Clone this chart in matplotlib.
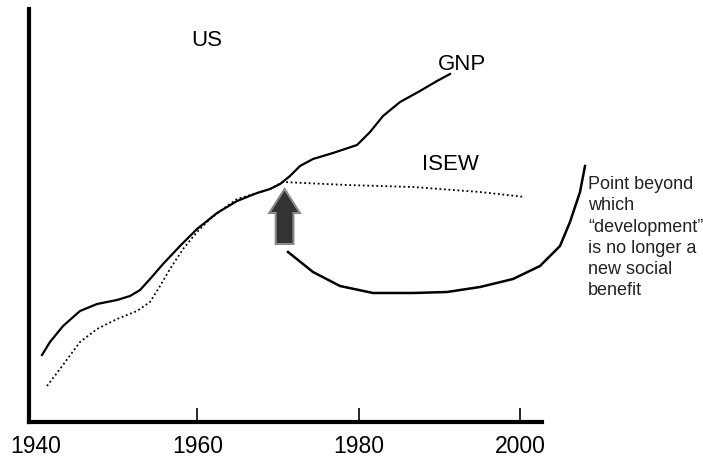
import matplotlib.pyplot as plt
import numpy as np
from matplotlib.patches import FancyArrow

plt.rcParams['font.family'] = ['Liberation Sans', 'DejaVu Sans']

# values (x in years, y in arbitrary units above the axis)
gnp_year = [1940.74, 1941.73, 1943.35, 1945.45, 1947.56, 1950.04, 1951.65,
            1952.89, 1954.13, 1955.74, 1957.84, 1959.95, 1962.43, 1964.91,
            1967.39, 1969.00, 1970.24, 1971.47, 1972.71, 1974.32, 1976.80,
            1979.78, 1981.39, 1983.00, 1985.11, 1987.58, 1989.69, 1991.30]
gnp_val = [67, 80, 96, 111, 118, 122, 126, 132, 143, 158, 176, 193, 209, 221,
           229, 233, 238, 246, 256, 263, 269, 277, 290, 306, 320, 331, 341, 348]

isew_year = [1941.36, 1942.97, 1945.45, 1947.56, 1950.04, 1952.52, 1954.13,
             1955.37, 1956.60, 1958.22, 1959.95, 1961.56, 1963.67, 1964.91,
             1967.39, 1969.00, 1970.61, 1978.54, 1986.72, 1995.02, 2000.59]
isew_val = [36, 53, 80, 93, 103, 111, 120, 136, 153, 173, 190, 203, 216, 223,
            229, 233, 240, 237, 235, 230, 225]

low_year = [1971.23, 1974.32, 1977.67, 1981.76, 1986.72, 1990.93, 1995.02,
            1999.11, 2002.45, 2004.93, 2006.17, 2007.41, 2008.03]
low_val = [170, 150, 136, 129, 129, 130, 135, 143, 156, 176, 200, 230, 256]

years = [1940, 1960, 1980, 2000]

fig = plt.figure(figsize=(7.03, 4.60), dpi=100)
ax = fig.add_axes([29/703, 37/460, 513/703, 413/460])
ax.set_xlim(1939.13, 2002.7)
ax.set_ylim(0, 413)

ax.plot(gnp_year, gnp_val, color='black', lw=1.6, solid_joinstyle='round')
ax.plot(isew_year, isew_val, color='black', lw=1.3, linestyle=(0, (1, 1.5)))
ax.plot(low_year, low_val, color='black', lw=1.8, clip_on=False,
        solid_joinstyle='round')

arrow = FancyArrow(1970.8, 178, 0, 55, width=2.2, head_width=3.8,
                   head_length=24, length_includes_head=True,
                   facecolor='#333333', edgecolor='#8a8a8a', lw=1.5)
ax.add_patch(arrow)

ax.text(1961.2, 383, 'US', fontsize=16, ha='center', va='center')
ax.text(1992.8, 358, 'GNP', fontsize=16, ha='center', va='center')
ax.text(1991.3, 258, 'ISEW', fontsize=16, ha='center', va='center')
ax.text(2008.4, 247, 'Point beyond\nwhich\n\u201cdevelopment\u201d\nis no longer a\nnew social\nbenefit',
        fontsize=13, ha='left', va='top', linespacing=1.33, clip_on=False,
        color='#222222')

for s in ['top', 'right']:
    ax.spines[s].set_visible(False)
for s in ['left', 'bottom']:
    ax.spines[s].set_linewidth(3)
ax.set_yticks([])
ax.set_xticks(years)
ax.set_xticklabels([str(y) for y in years], fontsize=16.5)
ax.tick_params(axis='x', direction='in', length=10, width=1.2, pad=9)
ax.xaxis.get_major_ticks()[0].tick1line.set_visible(False)

fig.savefig('out.png', dpi=100)
